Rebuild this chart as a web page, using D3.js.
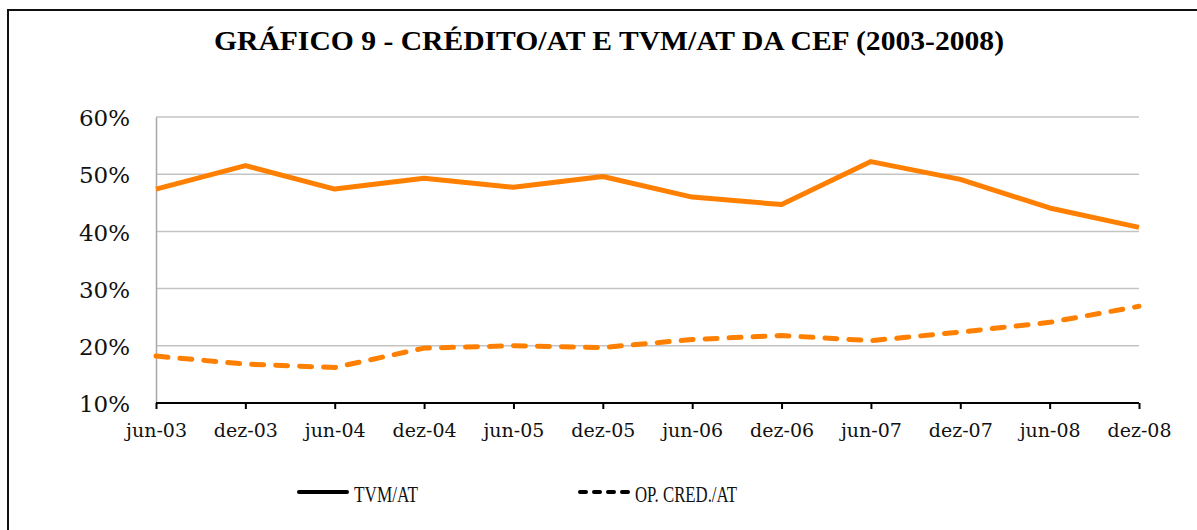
<!DOCTYPE html>
<html>
<head>
<meta charset="utf-8">
<script src="https://cdn.jsdelivr.net/npm/d3@7"></script>
<style>
  body { margin: 0; background: #fff; }
  svg { display: block; }
</style>
</head>
<body>
<svg id="chart" width="1197" height="530"></svg>
<script>
// dados
const periodos = ["jun-03", "dez-03", "jun-04", "dez-04", "jun-05", "dez-05",
                  "jun-06", "dez-06", "jun-07", "dez-07", "jun-08", "dez-08"];
const tvmAt = [47.4, 51.5, 47.4, 49.3, 47.7, 49.6, 46.0, 44.7, 52.2, 49.1, 44.1, 40.7];
const credAt = [18.2, 16.8, 16.2, 19.6, 20.0, 19.7, 21.1, 21.8, 20.9, 22.4, 24.1, 26.9];
const yTicks = [10, 20, 30, 40, 50, 60];

const svg = d3.select("#chart");
const margin = { top: 117, right: 58, bottom: 127, left: 156 };
const width = +svg.attr("width") - margin.left - margin.right;
const height = +svg.attr("height") - margin.top - margin.bottom;
const laranja = "#FF8000";

// moldura
svg.append("rect")
  .attr("x", 8).attr("y", 10)
  .attr("width", 1300).attr("height", 600)
  .attr("fill", "none")
  .attr("stroke", "#111")
  .attr("stroke-width", 2);

// título
svg.append("text")
  .attr("x", 609).attr("y", 50)
  .attr("text-anchor", "middle")
  .attr("textLength", 790)
  .attr("lengthAdjust", "spacingAndGlyphs")
  .style("font-family", "'Liberation Serif', 'Times New Roman', serif")
  .style("font-weight", "bold")
  .style("font-size", "27px")
  .text("GRÁFICO 9 - CRÉDITO/AT E TVM/AT DA CEF (2003-2008)");

const g = svg.append("g").attr("transform", `translate(${margin.left},${margin.top})`);

// Escalas
const x = d3.scalePoint().domain(periodos).range([0, width]);
const y = d3.scaleLinear().domain([10, 60]).range([height, 0]);

// linhas de grade
g.append("g")
  .selectAll("line")
  .data(yTicks.filter(d => d > 10))
  .enter()
  .append("line")
  .attr("x1", 0).attr("x2", width)
  .attr("y1", d => y(d)).attr("y2", d => y(d))
  .attr("stroke", "#C4C4C4")
  .attr("stroke-width", 1.5);

// eixo Y
const eixoY = g.append("g")
  .call(d3.axisLeft(y).tickValues(yTicks).tickSize(0).tickPadding(26).tickFormat(d => d + "%"));
eixoY.select(".domain").attr("stroke", "#A6A6A6").attr("stroke-width", 1.5);
eixoY.selectAll("text")
  .style("fill", "#111")
  .style("font-family", "'DejaVu Serif', serif")
  .style("font-size", "23px")
  .attr("dy", "0.38em");

// eixo X
const eixoX = g.append("g")
  .attr("transform", `translate(0,${height})`)
  .call(d3.axisBottom(x).tickSize(6).tickPadding(15));
eixoX.select(".domain").attr("stroke", "#000").attr("stroke-width", 2).attr("d", `M0,0H${width}`);
eixoX.selectAll(".tick line").attr("stroke", "#000").attr("stroke-width", 2);
eixoX.selectAll("text")
  .style("fill", "#111")
  .style("font-family", "'DejaVu Serif', serif")
  .style("font-size", "19px");

// séries
const linha = d3.line()
  .x((d, i) => x(periodos[i]))
  .y(d => y(d));

g.append("path")
  .datum(tvmAt)
  .attr("d", linha)
  .attr("fill", "none")
  .attr("stroke", laranja)
  .attr("stroke-width", 5)
  .attr("stroke-linejoin", "round");

g.append("path")
  .datum(credAt)
  .attr("d", linha)
  .attr("fill", "none")
  .attr("stroke", laranja)
  .attr("stroke-width", 5)
  .attr("stroke-dasharray", "12,12")
  .attr("stroke-linecap", "round")
  .attr("stroke-linejoin", "round");

// legenda
const legenda = [
  { nome: "TVM/AT", x1: 297, dash: null, larg: 64 },
  { nome: "OP. CRED./AT", x1: 578, dash: "6,8", larg: 102 }
];
const leg = svg.append("g");
legenda.forEach(l => {
  leg.append("line")
    .attr("x1", l.x1 + 2).attr("x2", l.x1 + 50)
    .attr("y1", 492).attr("y2", 492)
    .attr("stroke", "#000")
    .attr("stroke-width", 4)
    .attr("stroke-linecap", "round")
    .attr("stroke-dasharray", l.dash);
  leg.append("text")
    .attr("x", l.x1 + 57).attr("y", 502)
    .attr("textLength", l.larg)
    .attr("lengthAdjust", "spacingAndGlyphs")
    .style("font-family", "'Liberation Serif', serif")
    .style("font-size", "24px")
    .style("fill", "#111")
    .text(l.nome);
});
</script>
</body>
</html>
